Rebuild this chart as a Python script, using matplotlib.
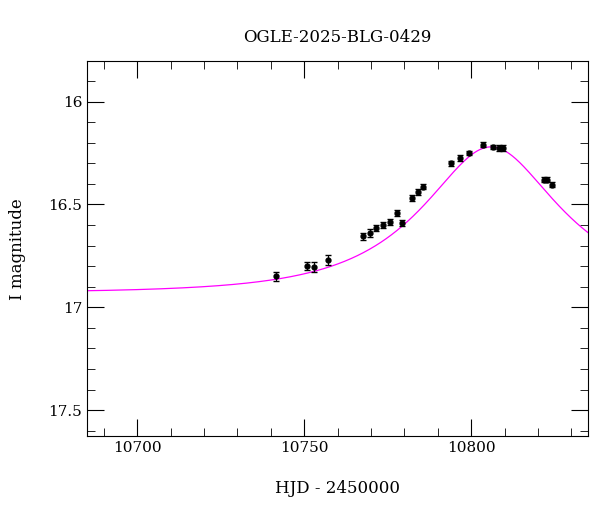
import numpy as np
import matplotlib
matplotlib.use("Agg")
import matplotlib.pyplot as plt
from matplotlib.ticker import MultipleLocator

hjd = [10741.6, 10750.9, 10753.0, 10757.2, 10767.7, 10769.8, 10771.6, 10773.7, 10775.7,
       10777.8, 10779.3, 10782.3, 10784.1, 10785.6, 10794.0, 10796.7, 10799.4, 10803.6,
       10806.6, 10808.4, 10809.6, 10821.9, 10822.8, 10824.3]
mag = [16.85, 16.80, 16.805, 16.77, 16.655, 16.64, 16.615, 16.60, 16.585, 16.54, 16.59,
       16.47, 16.44, 16.415, 16.30, 16.275, 16.25, 16.21, 16.22, 16.225, 16.225, 16.38,
       16.38, 16.405]
err = [0.02, 0.02, 0.025, 0.025, 0.018, 0.018, 0.015, 0.015, 0.015, 0.015, 0.015,
       0.015, 0.015, 0.012, 0.012, 0.015, 0.012, 0.012, 0.01, 0.015, 0.015, 0.012,
       0.012, 0.012]

# PSPL model parameters
t0, tE, u0, fs, I0 = 10806.0, 37.0, 0.5, 0.78, 16.93

plt.rcParams["font.family"] = "DejaVu Serif"
fig, ax = plt.subplots(figsize=(6, 5.12), dpi=100)
fig.subplots_adjust(left=0.145, right=0.98, top=0.88, bottom=0.148)

t = np.linspace(10680, 10840, 800)
u = np.sqrt(u0**2 + ((t - t0) / tE) ** 2)
A = (u**2 + 2) / (u * np.sqrt(u**2 + 4))
model = I0 - 2.5 * np.log10(fs * A + 1 - fs)
ax.plot(t, model, color="magenta", lw=0.9)
ax.errorbar(hjd, mag, yerr=err, fmt="o", color="black", ms=3.5, capsize=2, elinewidth=0.8)

ax.set_xlim(10685, 10835)
ax.set_ylim(17.627, 15.805)
ax.xaxis.set_major_locator(MultipleLocator(50))
ax.xaxis.set_minor_locator(MultipleLocator(10))
ax.yaxis.set_major_locator(MultipleLocator(0.5))
ax.yaxis.set_minor_locator(MultipleLocator(0.1))
ax.yaxis.set_major_formatter(matplotlib.ticker.FuncFormatter(lambda v, p: f"{v:g}"))
ax.tick_params(which="both", direction="in", top=True, right=True, labelsize=11)
ax.tick_params(which="major", length=12)
ax.tick_params(which="minor", length=6)
ax.set_xlabel("HJD - 2450000", fontsize=12, labelpad=18)
ax.set_ylabel("I magnitude", fontsize=12, labelpad=16)
ax.set_title("OGLE-2025-BLG-0429", fontsize=12, pad=14)
fig.savefig("out.png")
